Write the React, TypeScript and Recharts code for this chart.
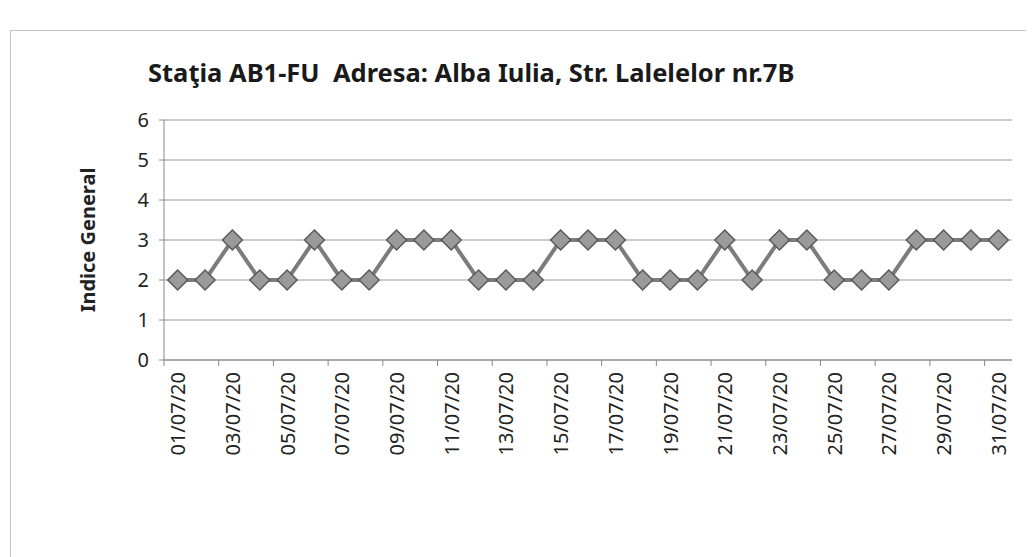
import React from "react";
import { LineChart, Line, XAxis, YAxis, CartesianGrid } from "recharts";

const dates = [
  "01/07/20", "02/07/20", "03/07/20", "04/07/20", "05/07/20", "06/07/20", "07/07/20", "08/07/20",
  "09/07/20", "10/07/20", "11/07/20", "12/07/20", "13/07/20", "14/07/20", "15/07/20", "16/07/20",
  "17/07/20", "18/07/20", "19/07/20", "20/07/20", "21/07/20", "22/07/20", "23/07/20", "24/07/20",
  "25/07/20", "26/07/20", "27/07/20", "28/07/20", "29/07/20", "30/07/20", "31/07/20",
];
const indice = [2, 2, 3, 2, 2, 3, 2, 2, 3, 3, 3, 2, 2, 2, 3, 3, 3, 2, 2, 2, 3, 2, 3, 3, 2, 2, 2, 3, 3, 3, 3];
const yTicks = [0, 1, 2, 3, 4, 5, 6];

const data = dates.map((d, i) => ({ date: d, value: indice[i] }));

const FONT = "'Noto Sans', 'Open Sans', sans-serif";

const Diamond = (props: any) => {
  const { cx, cy } = props;
  if (cx == null || cy == null) return null;
  const r = 10;
  return (
    <polygon
      points={`${cx},${cy - r} ${cx + r},${cy} ${cx},${cy + r} ${cx - r},${cy}`}
      fill="#9a9a9a"
      stroke="#5a5a5a"
      strokeWidth={1.5}
    />
  );
};

const XTick = (props: any) => {
  const { x, y, payload } = props;
  return (
    <g>
      <line x1={x - 13.7} y1={y - 8} x2={x - 13.7} y2={y - 2} stroke="#888" strokeWidth={1} />
      <text
        x={x}
        y={y + 4}
        transform={`rotate(-90, ${x}, ${y + 4})`}
        textAnchor="end"
        dominantBaseline="central"
        fontFamily={FONT}
        fontSize={20}
        fill="#222"
      >
        {payload.value}
      </text>
    </g>
  );
};

export default function App() {
  return (
    <div style={{ position: "relative", width: 1026, height: 549, background: "#fff" }}>
      <div
        style={{
          position: "absolute",
          left: 2,
          top: 22,
          width: 1030,
          height: 530,
          border: "1px solid #c4c4c4",
          boxSizing: "border-box",
        }}
      />
      <div
        style={{
          position: "absolute",
          left: 140,
          top: 46,
          width: 760,
          textAlign: "left",
          fontFamily: FONT,
          fontWeight: 700,
          fontSize: 25.5,
          lineHeight: "36px",
          color: "#1a1a1a",
          whiteSpace: "pre",
        }}
      >
        {"Staţia AB1-FU  Adresa: Alba Iulia, Str. Lalelelor nr.7B"}
      </div>
      <div style={{ position: "absolute", left: 0, top: 0 }}>
        <LineChart
          width={1026}
          height={549}
          data={data}
          margin={{ top: 112, right: 22, bottom: 97, left: 96 }}
        >
          <CartesianGrid vertical={false} stroke="#9a9a9a" strokeWidth={1} />
          <XAxis
            dataKey="date"
            interval={1}
            height={100}
            padding={{ left: 13.7, right: 13.7 }}
            axisLine={{ stroke: "#888" }}
            tickLine={false}
            tick={<XTick />}
          />
          <YAxis
            domain={[0, 6]}
            ticks={yTicks}
            width={60}
            axisLine={{ stroke: "#888" }}
            tickLine={{ stroke: "#888" }}
            tickSize={5}
            tickMargin={10}
            tick={{ fontFamily: FONT, fontSize: 20, fill: "#222" }}
            label={{
              value: "Indice General",
              angle: -90,
              position: "insideLeft",
              offset: -16,
              style: { fontFamily: FONT, fontSize: 20, fontWeight: 700, fill: "#222", textAnchor: "middle" },
            }}
          />
          <Line
            type="linear"
            dataKey="value"
            stroke="#7c7c7c"
            strokeWidth={4}
            dot={<Diamond />}
            activeDot={false}
            isAnimationActive={false}
          />
        </LineChart>
      </div>
    </div>
  );
}
